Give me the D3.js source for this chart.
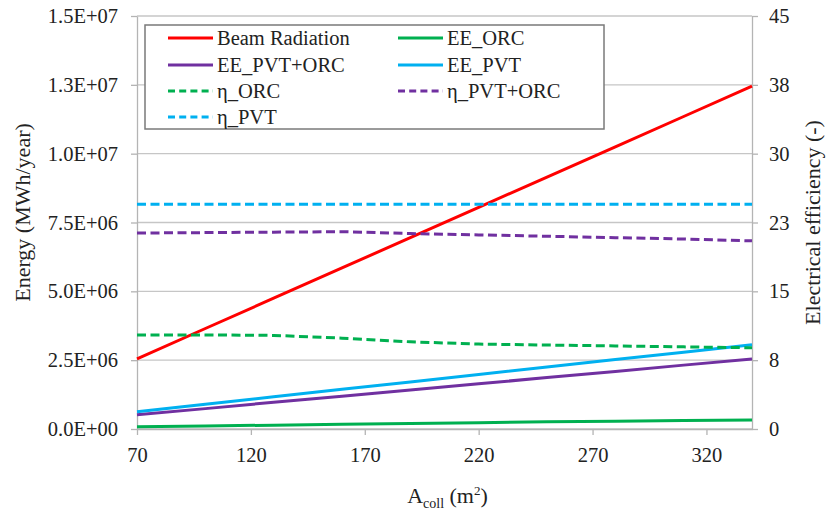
<!DOCTYPE html>
<html><head><meta charset="utf-8">
<script src="https://cdn.jsdelivr.net/npm/d3@7"></script>
<style>
html,body{margin:0;padding:0;background:#fff;}
svg{display:block;}
svg text{font-family:"Liberation Serif","Times New Roman",Times,serif !important;}
</style></head>
<body>
<svg id="chart" width="827" height="510"></svg>
<script>
const areas = [70, 100, 130, 160, 190, 220, 250, 280, 310, 340];
const beamRadiation = [2.55e6, 3.65e6, 4.75e6, 5.85e6, 6.95e6, 8.05e6, 9.15e6, 10.25e6, 11.35e6, 12.45e6];
const eeORC = [0.08e6, 0.11e6, 0.14e6, 0.17e6, 0.20e6, 0.23e6, 0.26e6, 0.28e6, 0.31e6, 0.33e6];
const eePVTORC = [0.52e6, 0.74e6, 0.97e6, 1.19e6, 1.42e6, 1.64e6, 1.87e6, 2.09e6, 2.32e6, 2.54e6];
const eePVT = [0.63e6, 0.90e6, 1.17e6, 1.44e6, 1.71e6, 1.98e6, 2.25e6, 2.52e6, 2.79e6, 3.06e6];
const etaORC = [10.25, 10.25, 10.2, 9.9, 9.5, 9.25, 9.15, 9.05, 8.95, 8.85];
const etaPVTORC = [21.35, 21.4, 21.45, 21.5, 21.3, 21.15, 21.0, 20.85, 20.7, 20.5];
const etaPVT = [24.5, 24.5, 24.5, 24.5, 24.5, 24.5, 24.5, 24.5, 24.5, 24.5];

const xTicks = [70, 120, 170, 220, 270, 320];
const leftTicks = [0, 2.5e6, 5e6, 7.5e6, 1e7, 1.25e7, 1.5e7];
const leftTickLabels = ["0.0E+00", "2.5E+06", "5.0E+06", "7.5E+06", "1.0E+07", "1.3E+07", "1.5E+07"];
const rightTicks = [0, 7.5, 15, 22.5, 30, 37.5, 45];
const rightTickLabels = ["0", "8", "15", "23", "30", "38", "45"];

const seriesNames = ["Beam Radiation", "EE_ORC", "EE_PVT+ORC", "EE_PVT", "η_ORC", "η_PVT+ORC", "η_PVT"];
const seriesColors = ["#ff0000", "#00b050", "#7030a0", "#00b0f0", "#00b050", "#7030a0", "#00b0f0"];
const seriesValues = [beamRadiation, eeORC, eePVTORC, eePVT, etaORC, etaPVTORC, etaPVT];
const seriesAxis = ["L", "L", "L", "L", "R", "R", "R"];
const seriesDashed = [false, false, false, false, true, true, true];

const L = 137, R = 752, T = 16, B = 429;
const svg = d3.select("#chart");
const x = d3.scaleLinear().domain([70, 340]).range([L, R]);
const yL = d3.scaleLinear().domain([0, 1.5e7]).range([B, T]);
const yR = d3.scaleLinear().domain([0, 45]).range([B, T]);

svg.append("g").selectAll("line").data(leftTicks).join("line")
  .attr("x1", L).attr("x2", R)
  .attr("y1", d => yL(d)).attr("y2", d => yL(d))
  .attr("stroke", "#c6c6c6").attr("stroke-width", 1.3);

const fontSize = 20.5;
const axL = svg.append("g").attr("transform", `translate(${L},0)`)
  .call(d3.axisLeft(yL).tickValues(leftTicks).tickFormat((d, i) => leftTickLabels[i]).tickSize(6).tickSizeOuter(0).tickPadding(13));
const axR = svg.append("g").attr("transform", `translate(${R},0)`)
  .call(d3.axisRight(yR).tickValues(rightTicks).tickFormat((d, i) => rightTickLabels[i]).tickSize(6).tickSizeOuter(0).tickPadding(11));
const axB = svg.append("g").attr("transform", `translate(0,${B})`)
  .call(d3.axisBottom(x).tickValues(xTicks).tickFormat(d3.format("d")).tickSize(6).tickSizeOuter(0).tickPadding(12));

[axL, axR, axB].forEach(g => {
  g.attr("font-family", null);
  g.selectAll(".domain").attr("stroke", "#b4b4b4").attr("stroke-width", 1.3);
  g.selectAll(".tick line").attr("stroke", "#b4b4b4").attr("stroke-width", 1.3);
  g.selectAll("text").attr("fill", "#222").style("font-size", fontSize + "px");
});

const lineGen = (scale) => d3.line().x((d, i) => x(areas[i])).y(d => scale(d));
seriesValues.forEach((vals, k) => {
  svg.append("path").datum(vals)
    .attr("d", lineGen(seriesAxis[k] === "L" ? yL : yR))
    .attr("fill", "none")
    .attr("stroke", seriesColors[k])
    .attr("stroke-width", 3)
    .attr("stroke-dasharray", seriesDashed[k] ? "9,4.5" : null);
});

const lg = svg.append("g");
lg.append("rect").attr("x", 145).attr("y", 25).attr("width", 459).attr("height", 104)
  .attr("fill", "#fff").attr("stroke", "#7a7a7a").attr("stroke-width", 1.5);
const legendCols = [168, 398];
const legendRows = [38, 65, 91, 117];
seriesNames.forEach((name, k) => {
  const cx = legendCols[k % 2], cy = legendRows[Math.floor(k / 2)];
  lg.append("line").attr("x1", cx).attr("x2", cx + 45).attr("y1", cy).attr("y2", cy)
    .attr("stroke", seriesColors[k]).attr("stroke-width", 3)
    .attr("stroke-dasharray", seriesDashed[k] ? "7,4.2" : null);
  lg.append("text").attr("x", cx + 49).attr("y", cy).attr("dy", "0.35em")
    .attr("fill", "#222").style("font-size", "20.5px").text(name);
});

svg.append("text").attr("transform", `translate(30,${(T + B) / 2 - 10}) rotate(-90)`)
  .attr("text-anchor", "middle").attr("fill", "#222").style("font-size", "22px")
  .text("Energy (MWh/year)");
svg.append("text").attr("transform", `translate(820,${(T + B) / 2}) rotate(-90)`)
  .attr("text-anchor", "middle").attr("fill", "#222").style("font-size", "22px")
  .text("Electrical efficiency (-)");
const xt = svg.append("text").attr("x", (L + R) / 2 + 3).attr("y", 503)
  .attr("text-anchor", "middle").attr("fill", "#222").style("font-size", "22px");
xt.append("tspan").text("A");
xt.append("tspan").attr("dy", 5).style("font-size", "14px").text("coll");
xt.append("tspan").attr("dy", -5).text(" (m");
xt.append("tspan").attr("dy", -8).style("font-size", "13px").text("2");
xt.append("tspan").attr("dy", 8).text(")");
</script>
</body></html>
